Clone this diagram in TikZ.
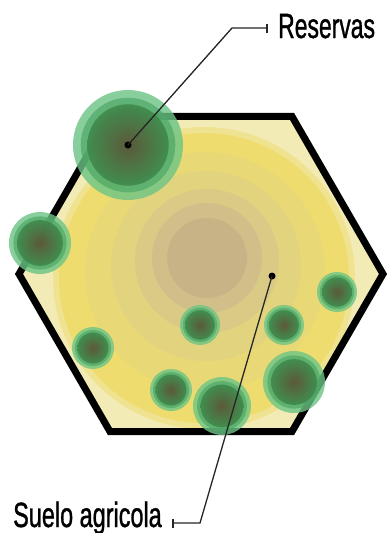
\documentclass[tikz,border=0pt]{standalone}
\usepackage{fontspec}
\setmainfont{Liberation Sans}
\newfontfamily\labfont[FakeBold=1.2]{Liberation Sans}
\definecolor{hexbg}{HTML}{F2EBB6}
\definecolor{yA}{HTML}{EEDD6E}
\definecolor{yB}{HTML}{E9D976}
\definecolor{yC}{HTML}{E2D37E}
\definecolor{yD}{HTML}{D9CA86}
\definecolor{yE}{HTML}{D0BF89}
\definecolor{yF}{HTML}{C8B387}
\definecolor{gOut}{HTML}{6CC485}
\definecolor{gMid}{HTML}{4EA866}
\definecolor{gDark}{HTML}{3E8A4C}
\definecolor{gCore}{HTML}{5C5034}
\newcommand\greenspot[3]{%
  \fill[gOut,opacity=0.8] (#1,#2) circle[radius=#3pt];
  \fill[gMid,opacity=0.7] (#1,#2) circle[radius=0.86*#3pt];
  \shade[inner color=gCore,outer color=gDark,opacity=0.9] (#1,#2) circle[radius=0.74*#3pt];
}
\tikzset{
  hexline/.style={line width=7pt,line join=miter,draw=black},
  leader/.style={line width=1.3pt,draw=black!85},
  label/.style={inner sep=0pt,font=\labfont\fontsize{35}{35}\selectfont},
  dotmark/.style={circle,fill=black,inner sep=0pt,minimum size=7pt}
}
\begin{document}
\begin{tikzpicture}[x=1pt,y=-1pt]
\useasboundingbox (0,0) rectangle (386,533);
\fill[white] (0,0) rectangle (386,533);
% hexagon
\coordinate (h1) at (383,274);
\coordinate (h2) at (292,116.4);
\coordinate (h3) at (110,116.4);
\coordinate (h4) at (19,274);
\coordinate (h5) at (110,431.6);
\coordinate (h6) at (292,431.6);
\fill[hexbg] (h1)--(h2)--(h3)--(h4)--(h5)--(h6)--cycle;
\begin{scope}
\clip (h1)--(h2)--(h3)--(h4)--(h5)--(h6)--cycle;
\fill[yA,opacity=0.5] (204,278) circle[radius=151pt];
\fill[yA] (204,278) circle[radius=145pt];
\fill[yB] (205,272) circle[radius=120pt];
\fill[yC] (206,266) circle[radius=95pt];
\fill[yD] (207,261) circle[radius=72pt];
\fill[yE] (207,258) circle[radius=55pt];
\fill[yF] (207,258) circle[radius=40pt];
\end{scope}
\draw[hexline] (h1)--(h2)--(h3)--(h4)--(h5)--(h6)--cycle;
% green spots
\greenspot{128}{145}{55}
\greenspot{40}{243}{31}
\greenspot{337}{292}{20}
\greenspot{200}{325}{20}
\greenspot{284}{325}{20}
\greenspot{93}{348}{21}
\greenspot{171}{390}{21}
\greenspot{222}{406}{29}
\greenspot{294}{382}{31}
% dots
\node[dotmark] (dotR) at (128,145) {};
\node[dotmark] (dotS) at (272,276) {};
% labels
\node[label,anchor=base west] (reservas) at (278,38) {\scalebox{0.655}[1]{Reservas}};
\node[label,anchor=base west] (suelo) at (13,527) {\scalebox{0.67}[1]{Suelo agricola}};
% leaders
\coordinate (rb) at (232,28);
\coordinate (re) at (267,28);
\draw[leader] (dotR.center) -- (rb) -- (re);
\draw[leader] ([yshift=-4.5pt]re) -- ([yshift=4.5pt]re);
\coordinate (sb) at (200,523);
\coordinate (se) at (173,523);
\draw[leader] (dotS.center) -- (sb) -- (se);
\draw[leader] ([yshift=-5pt]se) -- ([yshift=4pt]se);
\end{tikzpicture}
\end{document}
